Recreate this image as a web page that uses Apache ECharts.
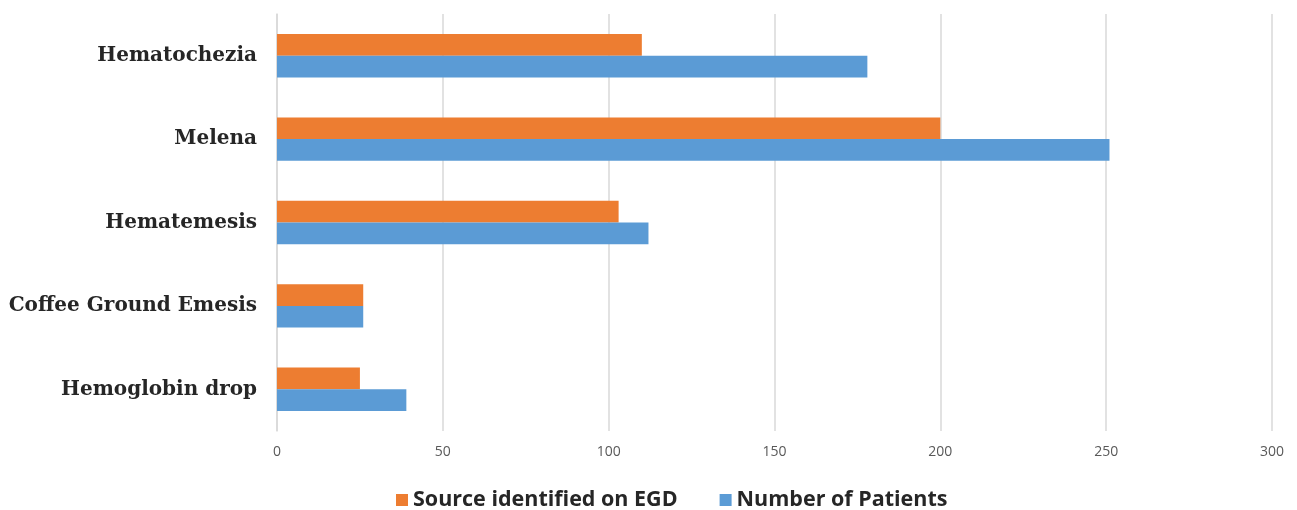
<!DOCTYPE html>
<html>
<head>
<meta charset="utf-8">
<script src="https://cdn.jsdelivr.net/npm/echarts@6/dist/echarts.min.js"></script>
<style>
  html, body { margin: 0; padding: 0; background: #ffffff; }
  #chart { width: 1297px; height: 510px; }
</style>
</head>
<body>
<div id="chart"></div>
<script>
// Presenting symptoms of GI bleeding
const categories = ['Hematochezia', 'Melena', 'Hematemesis', 'Coffee Ground Emesis', 'Hemoglobin drop'];
const sourceIdentified = [110, 200, 103, 26, 25];
const numberOfPatients = [178, 251, 112, 26, 39];
const xTicks = { min: 0, max: 300, interval: 50 };

const chart = echarts.init(document.getElementById('chart'), null, { renderer: 'canvas' });

chart.setOption({
  animation: false,
  backgroundColor: '#ffffff',
  grid: { left: 277, right: 25, top: 14, bottom: 79, containLabel: false },
  legend: {
    top: 484,
    left: 391,
    itemWidth: 12,
    itemHeight: 12,
    itemGap: 42,
    icon: 'rect',
    textStyle: { fontFamily: 'Open Sans', fontWeight: 'bold', fontSize: 21.5, color: '#262626' },
    data: ['Source identified on EGD', 'Number of Patients']
  },
  xAxis: {
    type: 'value',
    min: xTicks.min,
    max: xTicks.max,
    interval: xTicks.interval,
    axisLine: { show: false },
    axisTick: { show: false },
    splitLine: { show: true, lineStyle: { color: '#d9d9d9', width: 1.5 } },
    axisLabel: { margin: 14, fontFamily: 'Open Sans', fontSize: 14, color: '#595959' }
  },
  yAxis: {
    type: 'category',
    inverse: true,
    data: categories,
    axisLine: { show: true, lineStyle: { color: '#d9d9d9', width: 1.5 } },
    axisTick: { show: false },
    axisLabel: { margin: 20, fontFamily: 'DejaVu Serif', fontWeight: 'bold', fontSize: 20, color: '#262626' }
  },
  series: [
    {
      name: 'Source identified on EGD',
      type: 'bar',
      data: sourceIdentified,
      itemStyle: { color: '#ED7D31' },
      barGap: '0%',
      barCategoryGap: '48%'
    },
    {
      name: 'Number of Patients',
      type: 'bar',
      data: numberOfPatients,
      itemStyle: { color: '#5B9BD5' },
      barGap: '0%',
      barCategoryGap: '48%'
    }
  ]
});
</script>
</body>
</html>
